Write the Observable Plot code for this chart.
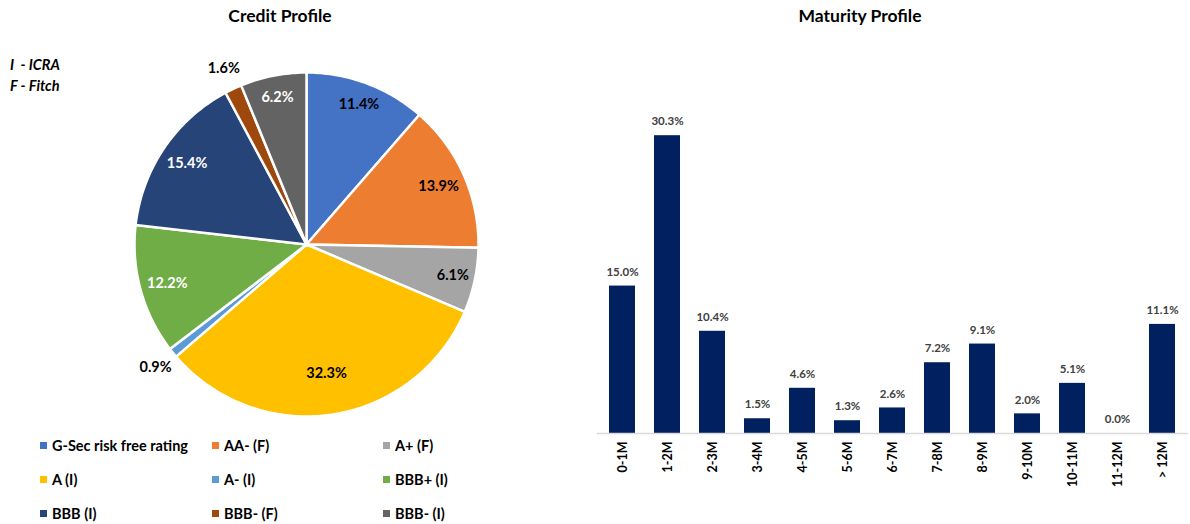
<!DOCTYPE html>
<html><head><meta charset="utf-8">
<script src="https://cdn.jsdelivr.net/npm/d3@7"></script>
<script src="https://cdn.jsdelivr.net/npm/@observablehq/plot@0.6"></script>
<style>
body{margin:0;width:1190px;height:524px;background:#fff;font-family:Lato,"Open Sans",sans-serif;position:relative;overflow:hidden;color:#000}
.title{position:absolute;top:5px;font-weight:bold;font-size:17.5px;text-align:center}
.note{position:absolute;left:10px;top:54px;font-weight:bold;font-style:italic;font-size:14.5px;line-height:21px}
.legend{position:absolute;left:0;top:0}
.li{position:absolute;font-weight:bold;font-size:14.5px;white-space:nowrap;display:flex;align-items:center}
.sw{width:7px;height:7px;margin-right:5px;display:inline-block}
#pie{position:absolute;left:0;top:30px}
#bars{position:absolute;left:590px;top:30px}
</style></head><body>
<div class="title" style="left:180px;width:200px">Credit Profile</div>
<div class="title" style="left:760px;width:200px">Maturity Profile</div>
<div class="note">I&nbsp; - ICRA<br>F - Fitch</div>
<div id="pie"></div>
<div id="legend" class="legend"></div>
<div id="bars"></div>
<script>
const creditNames = ["G-Sec risk free rating","AA- (F)","A+ (F)","A (I)","A- (I)","BBB+ (I)","BBB (I)","BBB- (F)","BBB- (I)"];
const creditValues = [11.4,13.9,6.1,32.3,0.9,12.2,15.4,1.6,6.2];
const creditColors = ["#4472C4","#ED7D31","#A5A5A5","#FFC000","#5B9BD5","#70AD47","#264478","#9E480E","#636363"];
const darkSlices = new Set(["BBB+ (I)","BBB (I)","BBB- (I)"]);

const maturityBuckets = ["0-1M","1-2M","2-3M","3-4M","4-5M","5-6M","6-7M","7-8M","8-9M","9-10M","10-11M","11-12M","> 12M"];
const maturityValues = [15.0,30.3,10.4,1.5,4.6,1.3,2.6,7.2,9.1,2.0,5.1,0.0,11.1];

// ---- Pie ----
const total = d3.sum(creditValues);
let cum = 0;
const slices = creditNames.map((name,i)=>{
  const a0 = cum/total*2*Math.PI; cum += creditValues[i];
  const a1 = cum/total*2*Math.PI;
  return {name, value:creditValues[i], a0, a1};
});
const pts = [];
for (const s of slices){
  pts.push({name:s.name,x:0,y:0});
  const n = Math.max(2, Math.ceil((s.a1-s.a0)/(Math.PI/180)));
  for (let k=0;k<=n;k++){ const a = s.a0+(s.a1-s.a0)*k/n; pts.push({name:s.name,x:Math.sin(a),y:Math.cos(a)}); }
  pts.push({name:s.name,x:0,y:0});
}
const labels = slices.map(s=>{
  const m = (s.a0+s.a1)/2;
  const r = s.value < 2 ? 1.13 : (s.value > 30 ? 0.76 : (s.value < 12 ? 0.87 : 0.84));
  return {name:s.name,x:Math.sin(m)*r,y:Math.cos(m)*r,label:s.value.toFixed(1)+"%"};
});
const pie = Plot.plot({
  width:590,height:400,marginLeft:134,marginRight:112,marginTop:42,marginBottom:14,
  x:{domain:[-1,1],axis:null}, y:{domain:[-1,1],axis:null},
  color:{domain:creditNames,range:creditColors},
  style:{fontFamily:"Lato, 'Open Sans', sans-serif",background:"transparent"},
  marks:[
    Plot.line(pts,{x:"x",y:"y",z:"name",fill:"name",stroke:"white",strokeWidth:2.5,strokeLinejoin:"round"}),
    Plot.text(labels.filter(d=>!darkSlices.has(d.name)),{x:"x",y:"y",text:"label",fill:"black",fontWeight:"bold",fontSize:14.5}),
    Plot.text(labels.filter(d=>darkSlices.has(d.name)),{x:"x",y:"y",text:"label",fill:"white",fontWeight:"bold",fontSize:14.5})
  ]
});
document.getElementById("pie").appendChild(pie);

// legend
const leg = document.getElementById("legend");
const colX = [40,212,383], rowY = [437,471,505];
creditNames.forEach((n,i)=>{
  const d = document.createElement("div"); d.className="li";
  d.style.left = colX[i%3]+"px"; d.style.top = rowY[Math.floor(i/3)]+"px";
  d.innerHTML = `<span class="sw" style="background:${creditColors[i]}"></span>${n}`;
  leg.appendChild(d);
});

// ---- Bars ----
const maturity = maturityBuckets.map((b,i)=>({bucket:b,value:maturityValues[i]}));
const bars = Plot.plot({
  width:600,height:494,marginLeft:7,marginRight:2,marginTop:59,marginBottom:91,
  x:{domain:maturityBuckets,paddingInner:0.42,paddingOuter:0.205,label:null,tickSize:0,tickPadding:8,tickRotate:-90},
  y:{domain:[0,35],axis:null},
  style:{fontFamily:"Lato, 'Open Sans', sans-serif",fontSize:"12.5px",fontWeight:"bold",color:"#000",background:"transparent"},
  marks:[
    Plot.barY(maturity,{x:"bucket",y:"value",fill:"#002060"}),
    Plot.ruleY([0],{stroke:"#d9d9d9",strokeWidth:1.5}),
    Plot.text(maturity,{x:"bucket",y:"value",text:d=>d.value.toFixed(1)+"%",dy:-14,fill:"#404040",fontSize:11.5,fontWeight:"bold"})
  ]
});
document.getElementById("bars").appendChild(bars);
</script>
</body></html>
